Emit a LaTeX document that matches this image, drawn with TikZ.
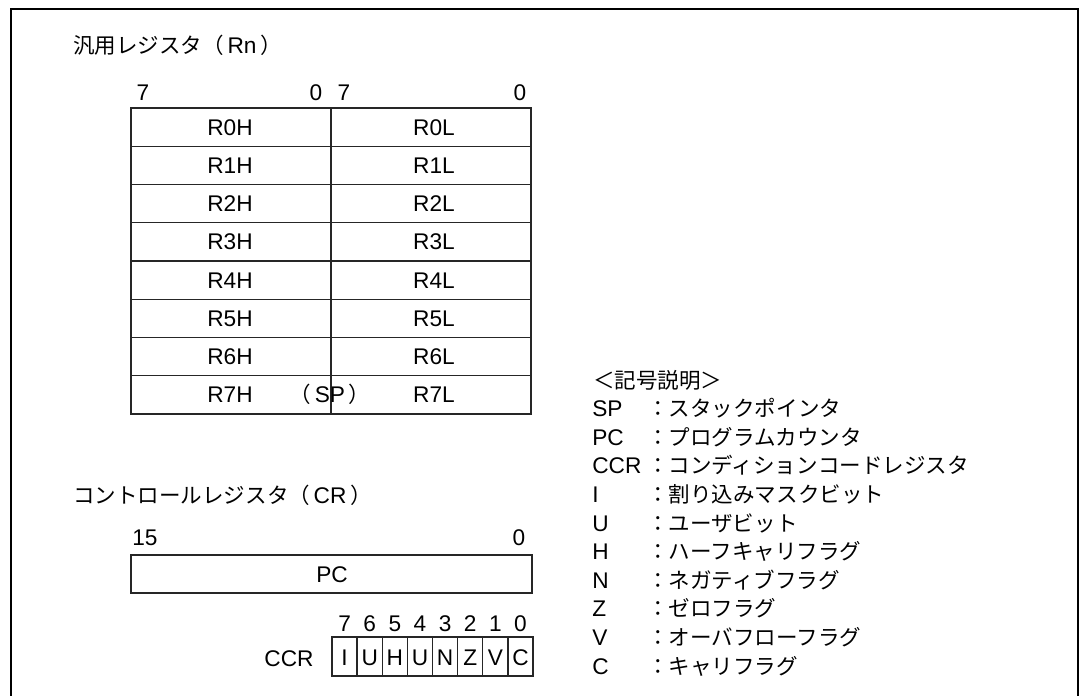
\documentclass[tikz,border=0pt]{standalone}
\usepackage{fontspec}
\setmainfont{Liberation Sans}
\newfontfamily\jp[Scale=0.95]{Noto Sans CJK JP}
\begin{document}
\begin{tikzpicture}[x=0.75pt,y=-0.75pt,
  txt/.style={font=\fontsize{17}{20}\selectfont, inner sep=0pt, anchor=base},
  txtw/.style={txt, anchor=base west},
  frameline/.style={line width=1.5pt, black},
  tbl/.style={line width=1.1pt, black!85}]
\useasboundingbox (0,0) rectangle (1079,696);
% outer frame (open at bottom)
\draw[frameline] (11,696) -- (11,9) -- (1078,9) -- (1078,696);

% ---------- general registers ----------
\node[txtw] (t1) at (73,53) {\jp 汎用レジスタ（\,{\rmfamily Rn}\,）};
\node[txt] (b7a) at (143,100) {7};
\node[txt] (b0a) at (316,100) {0};
\node[txt] (b7b) at (344,100) {7};
\node[txt] (b0b) at (520,100) {0};

\draw[tbl] (131,108) rectangle (531,414);
\foreach \i in {1,...,7} \draw[tbl] (131,{108+38.25*\i}) -- (531,{108+38.25*\i});
\draw[tbl] (331,108) -- (331,414);
\foreach \i in {0,...,6} {
  \node[txt] (h\i) at (230,{108+38.25*\i+19.1+8}) {R\i H};
  \node[txt] (l\i) at (434,{108+38.25*\i+19.1+8}) {R\i L};
}
\node[txt] (h7) at (230,{108+38.25*7+19.1+8}) {R7H};
\node[txt] (l7) at (434,{108+38.25*7+19.1+8}) {R7L};
\node[txt] (sp) at (330,{108+38.25*7+19.1+8}) {\jp（\,\rmfamily SP\,\jp ）};

% ---------- control registers ----------
\node[txtw] (t2) at (73,503) {\jp コントロールレジスタ（\,{\rmfamily CR}\,）};
\node[txt] (b15) at (145,545) {15};
\node[txt] (b0c) at (519,545) {0};
\draw[tbl] (131,555) rectangle (532,593);
\node[txt] (pc) at (332,582) {PC};

\node[txt] (ccr) at (289,666) {CCR};
\foreach \b [count=\k from 0] in {I,U,H,U,N,Z,V,C} {
  \draw[tbl] ({332+25.125*\k},637) rectangle ({332+25.125*(\k+1)},676);
  \node[txt] (c\k) at ({332+25.125*(\k+0.5)},665) {\b};
  \pgfmathtruncatemacro{\bitno}{7-\k}
  \node[txt] (n\k) at ({332+25.125*(\k+0.5)},631) {\bitno};
}

% ---------- legend ----------
\node[txtw] (lg) at (593,388) {\jp ＜記号説明＞};
\foreach \key/\desc [count=\n from 1] in {SP/スタックポインタ, PC/プログラムカウンタ, CCR/コンディションコードレジスタ, I/割り込みマスクビット, U/ユーザビット, H/ハーフキャリフラグ, N/ネガティブフラグ, Z/ゼロフラグ, V/オーバフローフラグ, C/キャリフラグ} {
  \node[txtw] (k\n) at (592,{380+28.6*\n+8}) {\key};
  \node[txtw] (d\n) at (647,{380+28.6*\n+8}) {\jp ：\desc};
}
\end{tikzpicture}
\end{document}
